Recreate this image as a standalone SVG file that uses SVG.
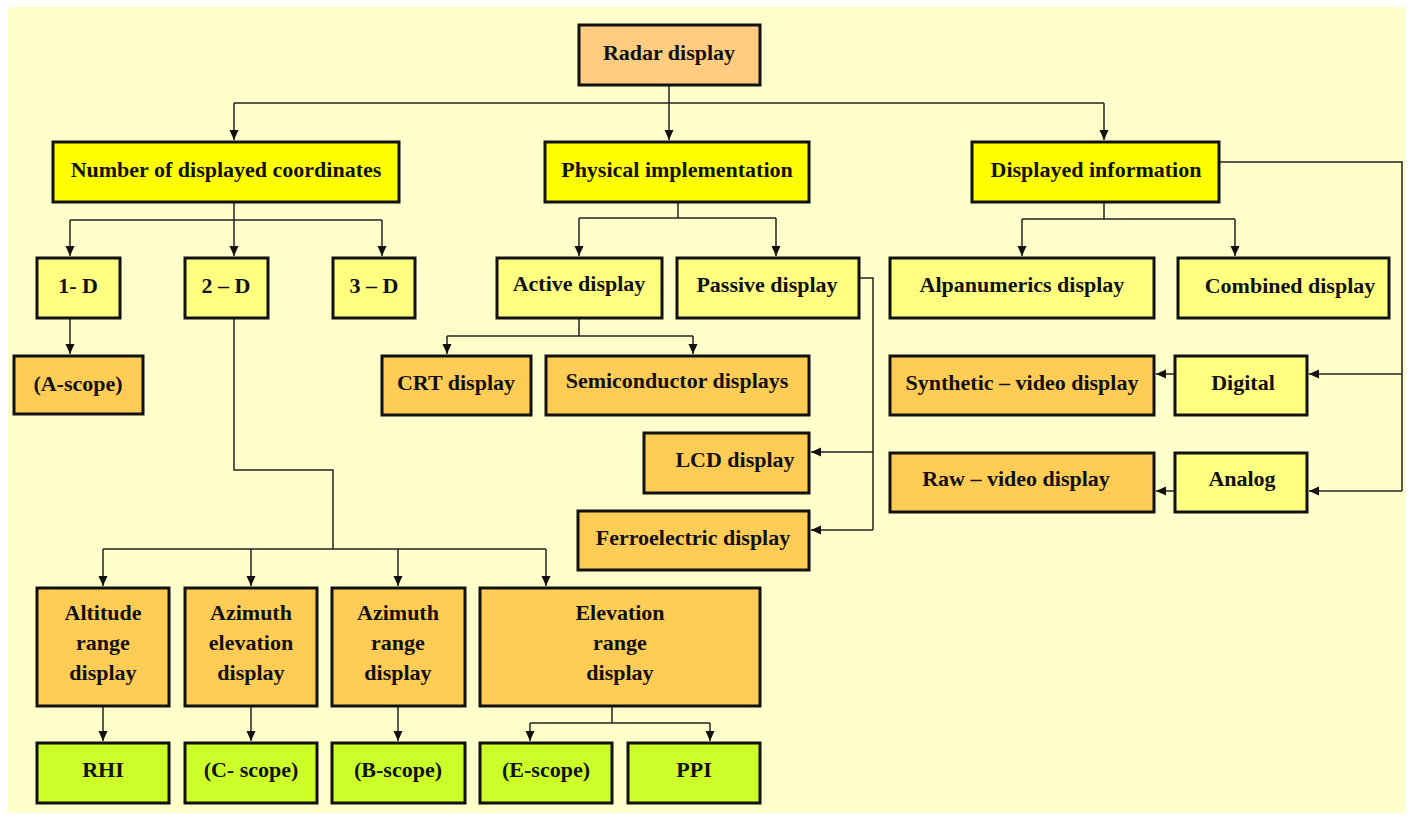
<svg xmlns="http://www.w3.org/2000/svg" width="1411" height="819" viewBox="0 0 1411 819">
<style>
.n rect{stroke:#111;stroke-width:3}
.radar{fill:#FFCC80}
.top{fill:#FFFF00}
.lt{fill:#FFFF80}
.or{fill:#FFCC55}
.gr{fill:#CCFF2A}
text{font-family:"Liberation Serif","Times New Roman",serif;font-weight:bold;font-size:22px;fill:#111;text-anchor:middle}
#connectors path{fill:none;stroke:#222;stroke-width:1.5}
</style>
<defs>
<marker id="ah" markerUnits="userSpaceOnUse" markerWidth="11" markerHeight="10" refX="10" refY="5" orient="auto">
<path d="M0,0.5 L10,5 L0,9.5 z" fill="#111"/>
</marker>
</defs>
<rect x="0" y="0" width="1411" height="819" fill="#FFFFFF"/>
<rect x="8" y="7" width="1398" height="806" fill="#FFFFCC"/>

<g id="connectors">
<path d="M669 85 V140" marker-end="url(#ah)"/>
<path d="M234 103 H1104"/>
<path d="M234 103 V140" marker-end="url(#ah)"/>
<path d="M1104 103 V140" marker-end="url(#ah)"/>
<path d="M234 202 V220 M70 220 H382"/>
<path d="M70 220 V256" marker-end="url(#ah)"/>
<path d="M234 220 V256" marker-end="url(#ah)"/>
<path d="M382 220 V256" marker-end="url(#ah)"/>
<path d="M70 318 V354" marker-end="url(#ah)"/>
<path d="M234 318 V470 H333 V549 M103 549 H546"/>
<path d="M103 549 V586" marker-end="url(#ah)"/>
<path d="M251 549 V586" marker-end="url(#ah)"/>
<path d="M398 549 V586" marker-end="url(#ah)"/>
<path d="M546 549 V586" marker-end="url(#ah)"/>
<path d="M103 706 V741" marker-end="url(#ah)"/>
<path d="M251 706 V741" marker-end="url(#ah)"/>
<path d="M398 706 V741" marker-end="url(#ah)"/>
<path d="M612 706 V723 M530 723 H710"/>
<path d="M530 723 V741" marker-end="url(#ah)"/>
<path d="M710 723 V741" marker-end="url(#ah)"/>
<path d="M678 202 V218 M579 218 H776"/>
<path d="M579 218 V256" marker-end="url(#ah)"/>
<path d="M776 218 V256" marker-end="url(#ah)"/>
<path d="M579 318 V336 M447 336 H693"/>
<path d="M447 336 V354" marker-end="url(#ah)"/>
<path d="M693 336 V354" marker-end="url(#ah)"/>
<path d="M859 278 H873 V530"/>
<path d="M873 452 H811" marker-end="url(#ah)"/>
<path d="M873 530 H811" marker-end="url(#ah)"/>
<path d="M1104 202 V219 M1022 219 H1235"/>
<path d="M1022 219 V256" marker-end="url(#ah)"/>
<path d="M1235 219 V256" marker-end="url(#ah)"/>
<path d="M1219 162 H1402 V491"/>
<path d="M1402 374 H1309" marker-end="url(#ah)"/>
<path d="M1402 491 H1309" marker-end="url(#ah)"/>
<path d="M1175 374 H1156" marker-end="url(#ah)"/>
<path d="M1175 491 H1156" marker-end="url(#ah)"/>
</g>

<g id="radar" class="n"><rect class="radar" x="579" y="25" width="181" height="60"/><text x="669" y="60">Radar display</text></g>
<g id="num" class="n"><rect class="top" x="53" y="142" width="346" height="60"/><text x="226" y="177">Number of displayed coordinates</text></g>
<g id="phys" class="n"><rect class="top" x="545" y="142" width="264" height="60"/><text x="677" y="177">Physical implementation</text></g>
<g id="info" class="n"><rect class="top" x="972" y="142" width="247" height="60"/><text x="1096" y="177">Displayed information</text></g>

<g id="d1" class="n"><rect class="lt" x="37" y="258" width="83" height="60"/><text x="78" y="293">1- D</text></g>
<g id="d2" class="n"><rect class="lt" x="185" y="258" width="83" height="60"/><text x="226" y="293">2 – D</text></g>
<g id="d3" class="n"><rect class="lt" x="333" y="258" width="82" height="60"/><text x="374" y="293">3 – D</text></g>
<g id="ascope" class="n"><rect class="or" x="14" y="356" width="129" height="58"/><text x="78" y="391">(A-scope)</text></g>

<g id="active" class="n"><rect class="lt" x="497" y="258" width="165" height="60"/><text x="579" y="291">Active display</text></g>
<g id="passive" class="n"><rect class="lt" x="677" y="258" width="182" height="60"/><text x="767" y="292">Passive display</text></g>
<g id="crt" class="n"><rect class="or" x="382" y="356" width="149" height="59"/><text x="456" y="390">CRT display</text></g>
<g id="semi" class="n"><rect class="or" x="546" y="356" width="263" height="59"/><text x="677" y="388">Semiconductor displays</text></g>
<g id="lcd" class="n"><rect class="or" x="644" y="433" width="165" height="60"/><text x="735" y="467">LCD display</text></g>
<g id="ferro" class="n"><rect class="or" x="578" y="511" width="231" height="59"/><text x="693" y="545">Ferroelectric display</text></g>

<g id="alpa" class="n"><rect class="lt" x="890" y="258" width="264" height="60"/><text x="1022" y="292">Alpanumerics display</text></g>
<g id="comb" class="n"><rect class="lt" x="1178" y="258" width="211" height="60"/><text x="1290" y="293">Combined display</text></g>
<g id="digital" class="n"><rect class="lt" x="1175" y="356" width="132" height="59"/><text x="1243" y="390">Digital</text></g>
<g id="analog" class="n"><rect class="lt" x="1175" y="453" width="132" height="59"/><text x="1242" y="486">Analog</text></g>
<g id="synth" class="n"><rect class="or" x="890" y="356" width="264" height="59"/><text x="1022" y="390">Synthetic – video display</text></g>
<g id="raw" class="n"><rect class="or" x="890" y="453" width="264" height="59"/><text x="1016" y="486">Raw – video display</text></g>

<g id="alt" class="n"><rect class="or" x="37" y="588" width="132" height="118"/><text x="103" y="620">Altitude</text><text x="103" y="650">range</text><text x="103" y="680">display</text></g>
<g id="azel" class="n"><rect class="or" x="185" y="588" width="132" height="118"/><text x="251" y="620">Azimuth</text><text x="251" y="650">elevation</text><text x="251" y="680">display</text></g>
<g id="azr" class="n"><rect class="or" x="332" y="588" width="133" height="118"/><text x="398" y="620">Azimuth</text><text x="398" y="650">range</text><text x="398" y="680">display</text></g>
<g id="elr" class="n"><rect class="or" x="480" y="588" width="280" height="118"/><text x="620" y="620">Elevation</text><text x="620" y="650">range</text><text x="620" y="680">display</text></g>

<g id="rhi" class="n"><rect class="gr" x="37" y="743" width="132" height="60"/><text x="103" y="777">RHI</text></g>
<g id="cscope" class="n"><rect class="gr" x="185" y="743" width="132" height="60"/><text x="251" y="777">(C- scope)</text></g>
<g id="bscope" class="n"><rect class="gr" x="332" y="743" width="133" height="60"/><text x="398" y="777">(B-scope)</text></g>
<g id="escope" class="n"><rect class="gr" x="480" y="743" width="132" height="60"/><text x="546" y="777">(E-scope)</text></g>
<g id="ppi" class="n"><rect class="gr" x="628" y="743" width="132" height="60"/><text x="694" y="777">PPI</text></g>
</svg>
